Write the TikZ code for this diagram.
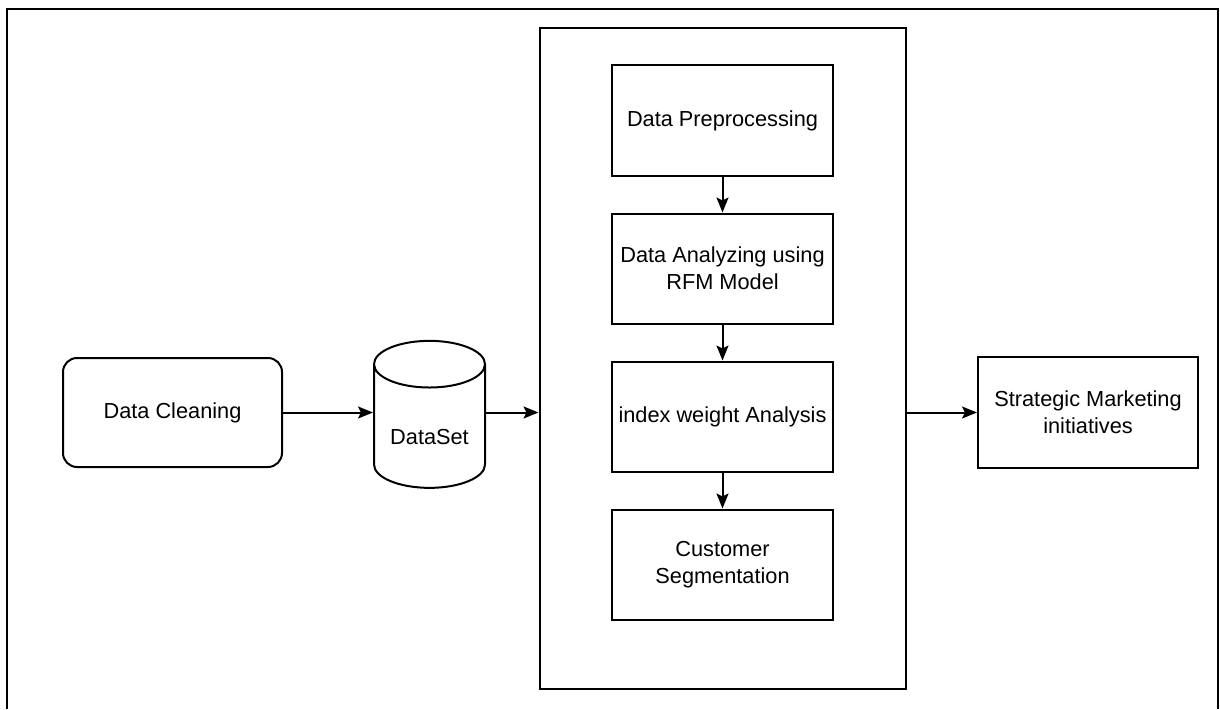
\documentclass[tikz,border=0pt]{standalone}
\usepackage{fontspec}
\setmainfont{Liberation Sans}
\usetikzlibrary{positioning, arrows.meta, shapes.geometric}

\begin{document}
\begin{tikzpicture}[
            x=1pt, y=-1pt,
            node distance=36pt and 92pt,
            every node/.style={font=\fontsize{21.75pt}{27pt}\selectfont},
            block/.style={rectangle, draw, line width=2pt, minimum width=221pt, minimum height=110pt, align=center, inner sep=2pt},
            roundblock/.style={block, rounded corners=14pt, minimum width=219pt, minimum height=109pt},
            store/.style={cylinder, shape border rotate=90, draw, line width=2pt, minimum width=111pt, minimum height=147pt, aspect=7},
            frame/.style={draw, line width=2pt, minimum width=366pt, minimum height=660pt},
            arrow/.style={-{Stealth[length=15pt, width=12pt, inset=3pt]}, line width=2pt}
        ]
        \useasboundingbox (0,0) rectangle (1220,709);
        % outer border, open at the bottom
        \draw[line width=2.8pt] (7,709) -- (7,9) -- (1218,9) -- (1218,709);

        % the processing column and its steps
        \node[frame] (process) at (722.5,358.5) {};
        \node[block, below=37pt of process.north] (preprocess) {Data Preprocessing};
        \node[block, below=of preprocess] (rfm) {Data Analyzing using\\RFM Model};
        \node[block, below=of rfm] (weight) {index weight Analysis};
        \node[block, below=of weight] (segment) {Customer\\Segmentation};

        % input side
        \node[store] (dataset) at (429.5,430.5) {};
        \node (dslabel) at ([yshift=-6.5pt]dataset.center) {DataSet};
        \node[roundblock] (cleaning) at (172.5,412.5) {Data Cleaning};

        % output side
        \node[block, minimum width=220pt, minimum height=111pt] (strategy) at (1088,412.5) {Strategic Marketing\\initiatives};

        % Draw the arrows
        \draw[arrow] (cleaning.east) -- (cleaning.east -| dataset.west);
        \draw[arrow] (dataset.east |- cleaning.east) -- (cleaning.east -| process.west);
        \draw[arrow] (preprocess) -- (rfm);
        \draw[arrow] (rfm) -- (weight);
        \draw[arrow] (weight) -- (segment);
        \draw[arrow] (strategy.west -| process.east) -- (strategy.west);
    \end{tikzpicture}
\end{document}
